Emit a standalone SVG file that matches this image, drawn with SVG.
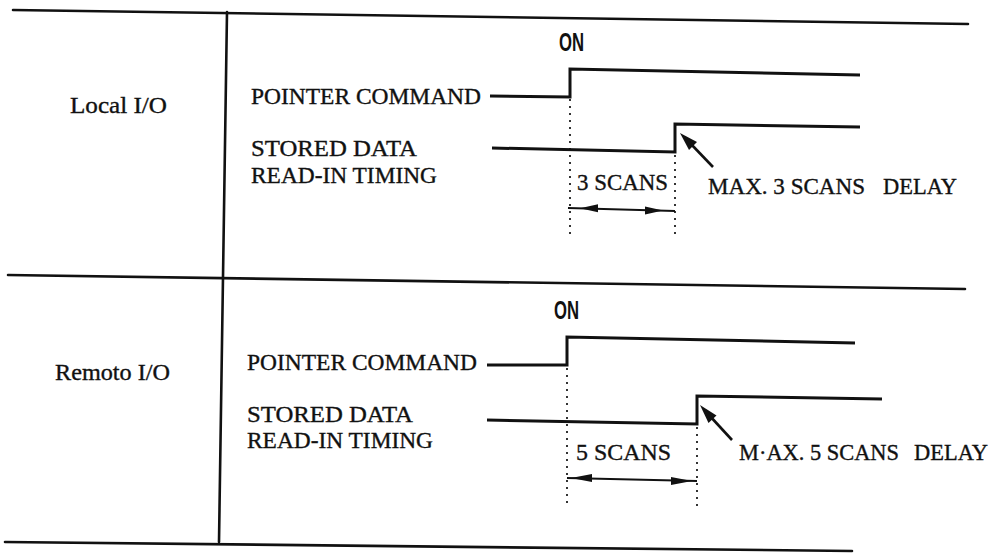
<svg xmlns="http://www.w3.org/2000/svg" width="995" height="553" viewBox="0 0 995 553">
<style>
.frame{stroke:#111;stroke-width:2.6;fill:none;stroke-linecap:round}
.wave{stroke:#111;stroke-width:3;fill:none;stroke-linejoin:miter}
.dot{stroke:#111;stroke-width:1.7;fill:none;stroke-dasharray:2 5}
.dim{stroke:#111;stroke-width:2.2;fill:none}
.ptr{stroke:#111;stroke-width:2.6;fill:none}
.head{fill:#111;stroke:none}
.t{font-family:"Liberation Serif","Times New Roman",serif;font-size:23px;fill:#111;stroke:#111;stroke-width:0.35}
.on{font-family:"Liberation Sans Narrow","Liberation Sans",Arial,sans-serif;font-weight:bold;font-size:25px;fill:#111}
</style>
<rect width="995" height="553" fill="#fff"/>
<g id="frame">
<line class="frame" x1="13" y1="10" x2="968" y2="24"/>
<line class="frame" x1="8" y1="275" x2="965" y2="289"/>
<line class="frame" x1="5" y1="542" x2="852" y2="551"/>
<line class="frame" x1="227" y1="12" x2="219" y2="542"/>
</g>
<g id="local-io">
<text class="t" x="70" y="113" textLength="97" lengthAdjust="spacingAndGlyphs">Local I/O</text>
<text class="t" x="251" y="104" textLength="230" lengthAdjust="spacingAndGlyphs">POINTER COMMAND</text>
<text class="t" x="251" y="156" textLength="166" lengthAdjust="spacingAndGlyphs">STORED DATA</text>
<text class="t" x="251" y="183" textLength="186" lengthAdjust="spacingAndGlyphs">READ-IN TIMING</text>
<text class="on" x="559" y="51" textLength="25" lengthAdjust="spacingAndGlyphs">ON</text>
<text class="t" x="577" y="190" textLength="91" lengthAdjust="spacingAndGlyphs">3 SCANS</text>
<text class="t" y="194"><tspan x="708" textLength="157" lengthAdjust="spacingAndGlyphs">MAX. 3 SCANS</tspan><tspan x="883" textLength="74" lengthAdjust="spacingAndGlyphs">DELAY</tspan></text>
</g>
<g id="remote-io">
<text class="t" x="55" y="380" textLength="115" lengthAdjust="spacingAndGlyphs">Remoto I/O</text>
<text class="t" x="247" y="370" textLength="230" lengthAdjust="spacingAndGlyphs">POINTER COMMAND</text>
<text class="t" x="247" y="422" textLength="166" lengthAdjust="spacingAndGlyphs">STORED DATA</text>
<text class="t" x="247" y="448" textLength="186" lengthAdjust="spacingAndGlyphs">READ-IN TIMING</text>
<text class="on" x="554" y="319" textLength="25" lengthAdjust="spacingAndGlyphs">ON</text>
<text class="t" x="576" y="460" textLength="95" lengthAdjust="spacingAndGlyphs">5 SCANS</text>
<text class="t" y="460"><tspan x="739" textLength="160" lengthAdjust="spacingAndGlyphs">M·AX. 5 SCANS</tspan><tspan x="914" textLength="74" lengthAdjust="spacingAndGlyphs">DELAY</tspan></text>
</g>
<g id="connectors">
<polyline class="wave" points="490,96 570,97 570,69 860,75"/>
<polyline class="wave" points="492,148 675,152 675,124 860,127"/>
<line class="dot" x1="570" y1="99" x2="570" y2="235"/>
<line class="dot" x1="675" y1="155" x2="675" y2="238"/>
<line class="dim" x1="568" y1="208" x2="675" y2="211"/>
<polygon class="head" points="580,208.3 598,204.3 598,212.3"/>
<polygon class="head" points="663,210.6 645,206.6 645,214.6"/>
<line class="ptr" x1="713" y1="167" x2="690" y2="143"/>
<polygon class="head" points="680,133 689,150 697,142"/>

<polyline class="wave" points="487,365 567,365 567,337 855,343"/>
<polyline class="wave" points="487,420 697,424 697,396 882,399"/>
<line class="dot" x1="567" y1="368" x2="567" y2="507"/>
<line class="dot" x1="697" y1="427" x2="697" y2="508"/>
<line class="dim" x1="567" y1="478" x2="697" y2="481"/>
<polygon class="head" points="571,478 592,474 592,482"/>
<polygon class="head" points="692,481 671,477 671,485"/>
<line class="ptr" x1="732" y1="440" x2="709" y2="415"/>
<polygon class="head" points="700,405 708.5,423 716.5,415.5"/>
</g>
</svg>
